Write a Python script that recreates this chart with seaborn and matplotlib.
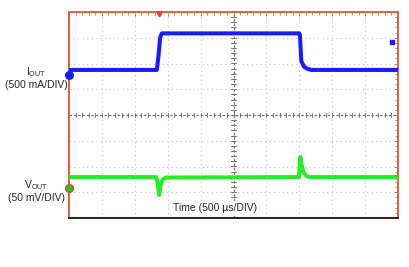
import matplotlib
matplotlib.use("Agg")
import matplotlib.pyplot as plt
import seaborn as sns
import numpy as np
from matplotlib.ticker import MultipleLocator

sns.set_style("white")
plt.rcParams['font.family'] = ['Liberation Sans', 'DejaVu Sans']

# time in microseconds (500 us/div), vertical values in screen divisions
iout_t = [0, 1335, 1360, 1385, 1410, 3500, 3510, 3530, 3570, 3620, 3680, 5000]
iout_y = [1.75, 1.75, 2.3, 3.0, 3.17, 3.17, 3.1, 2.1, 1.88, 1.8, 1.75, 1.75]

vout_t = [0, 1320, 1345, 1370, 1390, 1420, 1470, 3495, 3515, 3540, 3570, 3610, 3650, 5000]
vout_y = [-2.41, -2.41, -2.6, -3.11, -2.75, -2.52, -2.43, -2.41, -1.63, -2.0, -2.25, -2.37, -2.41, -2.41]

iout_ref = 1.55
vout_ref = -2.83
trig_t = 1370
trig_level = 2.83

fig = plt.figure(figsize=(4.09, 2.67), dpi=100)
ax = fig.add_axes([69/409, 1-218/267, (398-69)/409, (218-12)/267])
ax.set_xlim(0, 5000)
ax.set_ylim(-4, 4)

# grid
for gx in range(500, 5000, 500):
    if gx == 2500:
        continue
    ax.axvline(gx, color='#c4c4c4', lw=0.8, ls=(0, (1, 3)), zorder=1)
for gy in range(-3, 4):
    if gy == 0:
        continue
    ax.axhline(gy, color='#c4c4c4', lw=0.8, ls=(0, (1, 3)), zorder=1)
ax.axvline(2500, color='#7a7468', lw=0.9, ls=(0, (2, 1.5)), zorder=1.5)
ax.axhline(0, color='#7a7468', lw=0.9, ls=(0, (2, 1.5)), zorder=1.5)
# small ticks on center cross
for k in np.arange(-4, 4.01, 0.2):
    ax.plot([2500-40, 2500+40], [k, k], color='#7a7468', lw=0.7, zorder=1.5)
for k in np.arange(0, 5001, 100):
    ax.plot([k, k], [-0.08, 0.08], color='#7a7468', lw=0.7, zorder=1.5)

ax.xaxis.set_major_locator(MultipleLocator(500))
ax.xaxis.set_minor_locator(MultipleLocator(100))
ax.yaxis.set_major_locator(MultipleLocator(1))
ax.yaxis.set_minor_locator(MultipleLocator(0.2))
ax.tick_params(which='both', direction='in', top=True, right=True,
               labelbottom=False, labelleft=False, color='#888888')
ax.tick_params(which='major', length=3, width=0.7)
ax.tick_params(which='minor', length=2, width=0.6)

sns.lineplot(x=iout_t, y=iout_y, sort=False, estimator=None, ax=ax,
             color='#1a1aff', lw=2.9, zorder=3)
sns.lineplot(x=vout_t, y=vout_y, sort=False, estimator=None, ax=ax,
             color='#22ee22', lw=2.9, zorder=3)

for side in ['left', 'right', 'top']:
    ax.spines[side].set_color('#e0603a')
    ax.spines[side].set_linewidth(1.4)
ax.spines['bottom'].set_color('#3a1a10')
ax.spines['bottom'].set_linewidth(1.4)

# channel / trigger markers
ax.plot([0], [iout_ref], marker='o', ms=5.5, color='#1a1aff', clip_on=False, zorder=5)
ax.plot([0], [vout_ref], marker='o', ms=5.5, mfc='#22cc22', mec='#e04020', mew=1.0,
        clip_on=False, zorder=5)
ax.plot([trig_t], [3.92], marker='v', ms=3.5, color='#e04020', clip_on=False, zorder=5)
ax.plot([4910], [trig_level], marker='s', ms=2.5, color='#1a1aff', clip_on=False, zorder=5)

fs = 7.5
fig.text(36/409, 1-72/267, r'I$_{\mathregular{OUT}}$', ha='center', va='center', fontsize=fs)
fig.text(36/409, 1-85/267, '(500 mA/DIV)', ha='center', va='center', fontsize=fs)
fig.text(36/409, 1-185/267, r'V$_{\mathregular{OUT}}$', ha='center', va='center', fontsize=fs)
fig.text(36/409, 1-198/267, '(50 mV/DIV)', ha='center', va='center', fontsize=fs)
fig.text(215/409, 1-208/267, 'Time (500 µs/DIV)', ha='center', va='center', fontsize=fs,
         bbox=dict(facecolor='white', edgecolor='none', pad=0.6), zorder=6)

fig.savefig('out.png', dpi=100)
